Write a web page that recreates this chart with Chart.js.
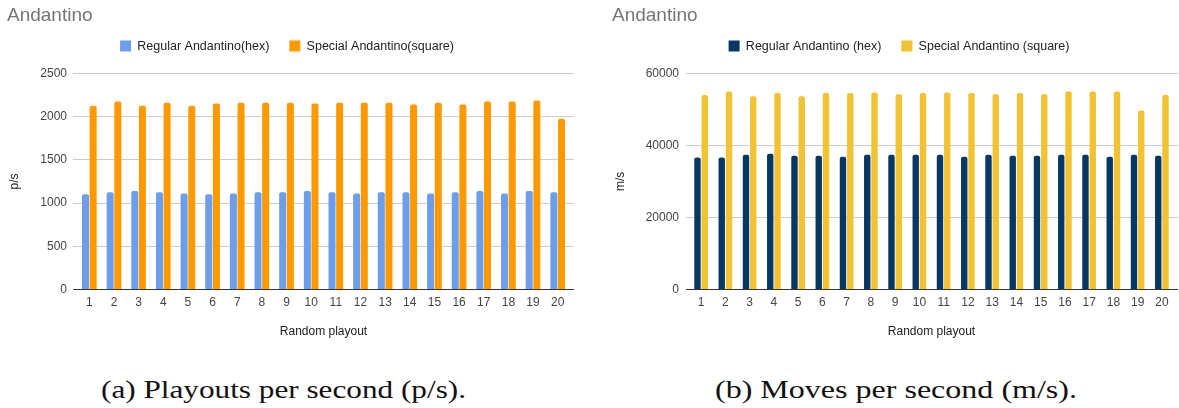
<!DOCTYPE html>
<html>
<head>
<meta charset="utf-8">
<script src="https://cdn.jsdelivr.net/npm/chart.js@4.4.1/dist/chart.umd.min.js"></script>
<style>
  html, body { margin: 0; padding: 0; background: #fff; width: 1179px; height: 408px; overflow: hidden; }
  canvas { position: absolute; top: 0; }
  #playoutsChart { left: 0; }
  #movesChart { left: 600px; }
  .caption {
    position: absolute; top: 378px; margin: 0;
    font-family: "Liberation Serif", "Times New Roman", serif;
    font-size: 25px; line-height: 24px; color: #111;
    white-space: nowrap; transform-origin: 0 0;
  }
</style>
</head>
<body>
<canvas id="playoutsChart" width="590" height="345"></canvas>
<canvas id="movesChart" width="579" height="345"></canvas>
<p class="caption" id="capA" data-x="101" data-w="365">(a) Playouts per second (p/s).</p>
<p class="caption" id="capB" data-x="715" data-w="362">(b) Moves per second (m/s).</p>

<script>
// Random playout runs 1..20
const playouts = ['1','2','3','4','5','6','7','8','9','10','11','12','13','14','15','16','17','18','19','20'];

// Playouts per second
const regularPlayouts = [1100, 1125, 1140, 1125, 1110, 1100, 1110, 1125, 1125, 1140, 1125, 1110, 1125, 1125, 1110, 1125, 1140, 1110, 1140, 1125];
const specialPlayouts = [2125, 2175, 2125, 2160, 2125, 2150, 2160, 2160, 2160, 2150, 2160, 2160, 2160, 2140, 2160, 2140, 2175, 2175, 2185, 1975];

// Moves per second
const regularMoves = [36600, 36600, 37400, 37700, 37150, 37150, 36850, 37400, 37400, 37400, 37400, 36850, 37400, 37150, 37150, 37400, 37400, 36850, 37400, 37150];
const specialMoves = [53950, 54950, 53650, 54500, 53650, 54500, 54500, 54700, 54200, 54500, 54700, 54500, 54200, 54500, 54200, 54950, 54950, 54950, 49650, 53950];

// Y-axis tick labels
const playoutTicks = [0, 500, 1000, 1500, 2000, 2500];
const moveTicks = [0, 20000, 40000, 60000];

const FONT = '"Liberation Sans", Arial, sans-serif';
Chart.defaults.font.family = FONT;

// Horizontal grid lines run a few pixels past the plot on both sides
const gridExtend = {
  id: 'gridExtend',
  beforeDatasetsDraw(chart, args, opts) {
    const { ctx, chartArea } = chart;
    const y = chart.scales.y;
    ctx.save();
    ctx.lineWidth = 1;
    y.ticks.forEach(t => {
      const py = Math.round(y.getPixelForValue(t.value) - 0.5) + 0.5;
      ctx.strokeStyle = t.value === 0 ? '#333333' : '#cccccc';
      ctx.beginPath();
      ctx.moveTo(chartArea.left - (opts.left || 0), py);
      ctx.lineTo(chartArea.left, py);
      ctx.moveTo(chartArea.right, py);
      ctx.lineTo(chartArea.right + (opts.right || 0), py);
      ctx.stroke();
    });
    ctx.restore();
  }
};

// Legend row: extra space beneath it and a sideways nudge
const legendBox = {
  id: 'legendBox',
  beforeLayout(chart, args, opts) {
    const L = chart.legend;
    if (L && !L._padded) {
      const fit = L.fit;
      L.fit = function () { fit.call(this); this.height += (opts.extra || 0); };
      L._padded = true;
    }
  },
  afterLayout(chart, args, opts) {
    const L = chart.legend;
    if (L && opts.dx) { L.left += opts.dx; L.right += opts.dx; }
  }
};

function buildChart(id, cfg) {
  const ticks = cfg.ticks;
  return new Chart(document.getElementById(id), {
    type: 'bar',
    data: {
      labels: playouts,
      datasets: [
        { label: cfg.names[0], data: cfg.series[0], backgroundColor: cfg.colors[0] },
        { label: cfg.names[1], data: cfg.series[1], backgroundColor: cfg.colors[1] }
      ]
    },
    options: {
      responsive: false,
      animation: false,
      devicePixelRatio: 1,
      categoryPercentage: cfg.catPct,
      barPercentage: cfg.barPct,
      borderRadius: { topLeft: 2, topRight: 2, bottomLeft: 0, bottomRight: 0 },
      borderSkipped: 'start',
      layout: { padding: { left: cfg.padL, right: cfg.padR, top: 0, bottom: 0 } },
      plugins: {
        title: {
          display: true, text: 'Andantino', align: 'start', color: '#757575',
          font: { family: FONT, size: 19, weight: 'normal' },
          padding: { top: 4, bottom: -7 }
        },
        legend: {
          position: 'top', align: 'center',
          labels: { boxWidth: 11, boxHeight: 11, padding: 20, color: '#222222', font: { family: FONT, size: 12.5 } }
        },
        legendBox: { dx: cfg.legendDx, extra: 11 },
        gridExtend: { left: cfg.extL, right: cfg.extR },
        tooltip: { enabled: false }
      },
      scales: {
        x: {
          grid: { display: false, drawTicks: false },
          border: { display: false },
          ticks: { color: '#444444', font: { size: 12 }, padding: 5.5, maxRotation: 0, autoSkip: false },
          title: { display: true, text: 'Random playout', color: '#222222', font: { size: 12 }, padding: { top: 10, bottom: 5.7 } }
        },
        y: {
          min: ticks[0], max: ticks[ticks.length - 1],
          ticks: { stepSize: ticks[1] - ticks[0], color: '#444444', font: { size: 12 }, padding: 10, callback: v => String(v) },
          grid: { color: c => (c.tick && c.tick.value === 0 ? '#333333' : '#cccccc'), drawTicks: false },
          border: { display: false },
          title: { display: true, text: cfg.yTitle, color: '#222222', font: { size: 12 }, padding: { top: cfg.yTitlePad, bottom: 0 } },
          afterFit(s) { s.width = cfg.yWidth; }
        }
      }
    },
    plugins: [gridExtend, legendBox]
  });
}

buildChart('playoutsChart', {
  names: ['Regular Andantino(hex)', 'Special Andantino(square)'],
  series: [regularPlayouts, specialPlayouts],
  colors: ['#6d9eeb', '#ff9900'],
  ticks: playoutTicks,
  yTitle: 'p/s',
  padL: 7, padR: 20, yWidth: 70, yTitlePad: 0.8,
  legendDx: -1.5, extL: 4, extR: 4,
  catPct: 0.62, barPct: 0.92
});

buildChart('movesChart', {
  names: ['Regular Andantino (hex)', 'Special Andantino (square)'],
  series: [regularMoves, specialMoves],
  colors: ['#073763', '#f1c232'],
  ticks: moveTicks,
  yTitle: 'm/s',
  padL: 12, padR: 5, yWidth: 77, yTitlePad: 1.8,
  legendDx: 6, extL: 3, extR: 4,
  catPct: 0.6, barPct: 0.88
});

// Sub-figure captions, stretched to their set widths
document.querySelectorAll('.caption').forEach(el => {
  const x = +el.dataset.x, w = +el.dataset.w;
  el.style.left = x + 'px';
  const k = w / el.getBoundingClientRect().width;
  el.style.transform = 'scaleX(' + k.toFixed(4) + ')';
});
</script>
</body>
</html>
